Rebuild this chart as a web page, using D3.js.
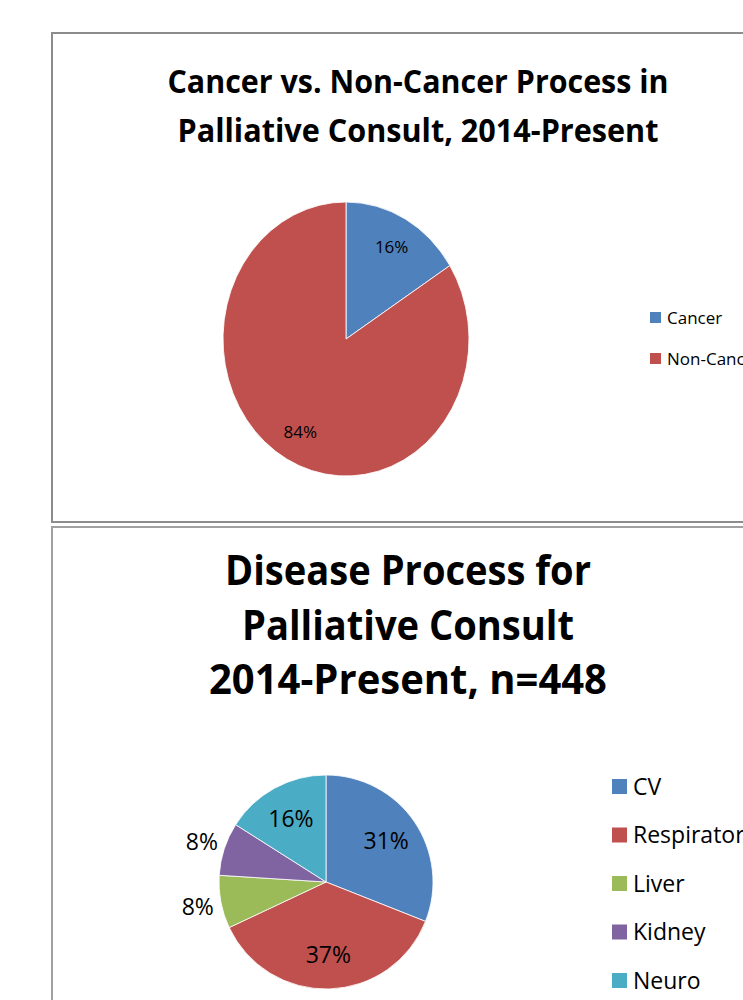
<!DOCTYPE html>
<html>
<head>
<meta charset="utf-8">
<script src="https://cdn.jsdelivr.net/npm/d3@7"></script>
<style>
  body { margin: 0; background: #fff; }
  svg { display: block; font-family: "Open Sans", sans-serif; }
</style>
</head>
<body>
<svg id="chart" width="743" height="1000"></svg>
<script>
// top chart
const topCategories = ["Cancer", "Non-Cancer"];
const topValues = [16, 84];
const topColors = ["#4F81BD", "#C0504D"];
const topTitle = ["Cancer vs. Non-Cancer Process in", "Palliative Consult, 2014-Present"];

// bottom chart
const diseaseCategories = ["CV", "Respiratory", "Liver", "Kidney", "Neuro"];
const diseaseValues = [31, 37, 8, 8, 16];
const diseaseColors = ["#4F81BD", "#C0504D", "#9BBB59", "#8064A2", "#4BACC6"];
const diseaseTitle = ["Disease Process for", "Palliative Consult", "2014-Present, n=448"];

const svg = d3.select("#chart");

// panel borders
svg.append("rect").attr("x", 52).attr("y", 33).attr("width", 760).attr("height", 489)
  .attr("fill", "none").attr("stroke", "#8c8c8c").attr("stroke-width", 2);
svg.append("rect").attr("x", 52).attr("y", 527).attr("width", 760).attr("height", 520)
  .attr("fill", "none").attr("stroke", "#a0a0a0").attr("stroke-width", 2);

function drawTitle(lines, cx, baselines, size, widths) {
  lines.forEach((t, i) => {
    svg.append("text")
      .attr("x", cx).attr("y", baselines[i])
      .attr("text-anchor", "middle")
      .attr("font-size", size).attr("font-weight", "bold")
      .attr("textLength", widths[i]).attr("lengthAdjust", "spacingAndGlyphs")
      .attr("fill", "#000")
      .text(t);
  });
}

function drawPie(opts) {
  const { values, colors, cx, cy, rx, ry, labelR, outerR, fontSize } = opts;
  const pie = d3.pie().sort(null)(values);
  const total = d3.sum(values);
  const arc = d3.arc().innerRadius(0).outerRadius(rx);
  const g = svg.append("g").attr("transform", `translate(${cx},${cy})`);
  // the reference pie is drawn a little taller than wide, so scale y
  const slices = g.append("g").attr("transform", `scale(1,${ry / rx})`);
  slices.selectAll("path")
    .data(pie)
    .enter()
    .append("path")
    .attr("d", arc)
    .attr("fill", (d, i) => colors[i])
    .attr("stroke", "#fff")
    .attr("stroke-width", 0.8);

  const inArc = d3.arc().innerRadius(rx * labelR).outerRadius(rx * labelR);
  const outArc = d3.arc().innerRadius(rx * outerR).outerRadius(rx * outerR);
  g.selectAll("text.lbl")
    .data(pie)
    .enter()
    .append("text")
    .attr("class", "lbl")
    .attr("transform", d => {
      const c = (d.value / total < 0.1 ? outArc : inArc).centroid(d);
      return `translate(${c[0]},${c[1] * ry / rx})`;
    })
    .attr("text-anchor", "middle")
    .attr("dy", "0.36em")
    .attr("font-size", fontSize)
    .attr("fill", "#000")
    .text(d => Math.round(d.value / total * 100) + "%");
}

function drawLegend(cats, colors, x, y0, step, box, fontSize) {
  const lg = svg.append("g");
  cats.forEach((c, i) => {
    lg.append("rect").attr("x", x).attr("y", y0 + i * step)
      .attr("width", box).attr("height", box).attr("fill", colors[i]);
    lg.append("text").attr("x", x + box + 6).attr("y", y0 + i * step + box / 2)
      .attr("dy", "0.36em").attr("font-size", fontSize).attr("fill", "#000")
      .text(c);
  });
}

// top
drawTitle(topTitle, 418, [93, 142], 33, [501, 481]);
drawPie({ values: topValues, colors: topColors, cx: 346, cy: 339, rx: 123, ry: 137,
  labelR: 0.77, outerR: 1.2, fontSize: 17 });
drawLegend(topCategories, topColors, 650, 312, 41, 11, 17);

// bottom
drawTitle(diseaseTitle, 408, [585, 640, 694], 42, [366, 332, 398]);
drawPie({ values: diseaseValues, colors: diseaseColors, cx: 326, cy: 882, rx: 107, ry: 107,
  labelR: 0.68, outerR: 1.22, fontSize: 23 });
drawLegend(diseaseCategories, diseaseColors, 612, 779, 48.5, 15, 23);
</script>
</body>
</html>
